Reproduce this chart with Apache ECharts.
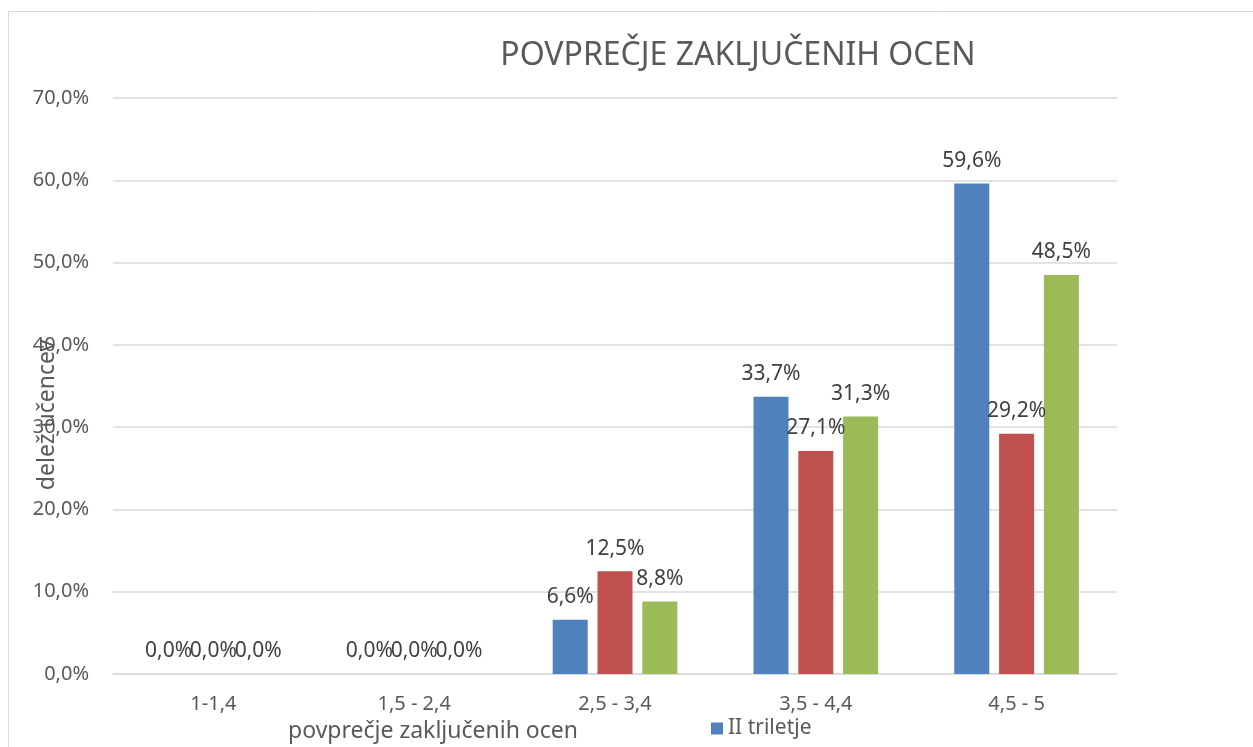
<!DOCTYPE html>
<html><head><meta charset="utf-8">
<script src="https://cdn.jsdelivr.net/npm/echarts@6/dist/echarts.min.js"></script>
<style>html,body{margin:0;padding:0;background:#fff}#c{width:1253px;height:747px}</style>
</head><body><div id="c"></div>
<script>
const categories = ['1-1,4', '1,5 - 2,4', '2,5 - 3,4', '3,5 - 4,4', '4,5 - 5'];
const seriesNames = ['II triletje', 'Serija 2', 'Serija 3'];
const valuesBlue = [0.0, 0.0, 6.6, 33.7, 59.6];
const valuesRed = [0.0, 0.0, 12.5, 27.1, 29.2];
const valuesGreen = [0.0, 0.0, 8.8, 31.3, 48.5];
const yTicks = [0, 10, 20, 30, 40, 50, 60, 70];

const colors = ['#4F81BD', '#C0504D', '#9BBB59'];
const fmt = v => v.toFixed(1).replace('.', ',') + '%';
const chart = echarts.init(document.getElementById('c'));
const mk = (name, data, color) => ({
  name, type: 'bar', data, barWidth: 35, barGap: '28%',
  itemStyle: { color },
  label: { show: true, position: 'top', distance: 12, formatter: p => fmt(p.value),
    color: '#404040', fontSize: 21, fontFamily: 'Noto Sans' }
});
chart.setOption({
  animation: false,
  textStyle: { fontFamily: 'Noto Sans' },
  title: { text: 'POVPREČJE ZAKLJUČENIH OCEN', left: 733, top: 35, textAlign: 'center',
    textStyle: { fontSize: 32, fontWeight: 'normal', color: '#595959', fontFamily: 'Noto Sans' } },
  legend: { data: ['II triletje'], left: 706, top: 713, itemWidth: 12, itemHeight: 12, itemGap: 4,
    icon: 'rect', textStyle: { fontSize: 21, color: '#595959', fontFamily: 'Noto Sans' } },
  grid: { left: 113, right: 136, top: 98, bottom: 73 },
  xAxis: { type: 'category', data: categories,
    axisLine: { lineStyle: { color: '#d9d9d9', width: 1.5 } }, axisTick: { show: false },
    axisLabel: { fontSize: 20, color: '#595959', margin: 20, fontFamily: 'Noto Sans' } },
  yAxis: { type: 'value', min: 0, max: 70, interval: 10,
    axisLabel: { formatter: v => fmt(v), fontSize: 20, color: '#595959', margin: 24 },
    splitLine: { lineStyle: { color: '#d9d9d9', width: 1.5 } },
    axisLine: { show: false }, axisTick: { show: false } },
  graphic: [
    { type: 'rect', shape: { x: 8.5, y: 11.5, width: 1300, height: 800 },
      style: { fill: 'none', stroke: '#d9d9d9', lineWidth: 1 }, silent: true, z: -10 },
    { type: 'text', x: 47, y: 415, rotation: Math.PI / 2,
      style: { text: 'delež učencev', fontSize: 23, fill: '#595959', fontFamily: 'Noto Sans',
        textAlign: 'center', textVerticalAlign: 'middle' } },
    { type: 'text', x: 433, y: 731,
      style: { text: 'povprečje zaključenih ocen', fontSize: 23, fill: '#595959', fontFamily: 'Noto Sans',
        textAlign: 'center', textVerticalAlign: 'middle' } }
  ],
  series: [
    mk(seriesNames[0], valuesBlue, colors[0]),
    mk(seriesNames[1], valuesRed, colors[1]),
    mk(seriesNames[2], valuesGreen, colors[2])
  ]
});
</script></body></html>
